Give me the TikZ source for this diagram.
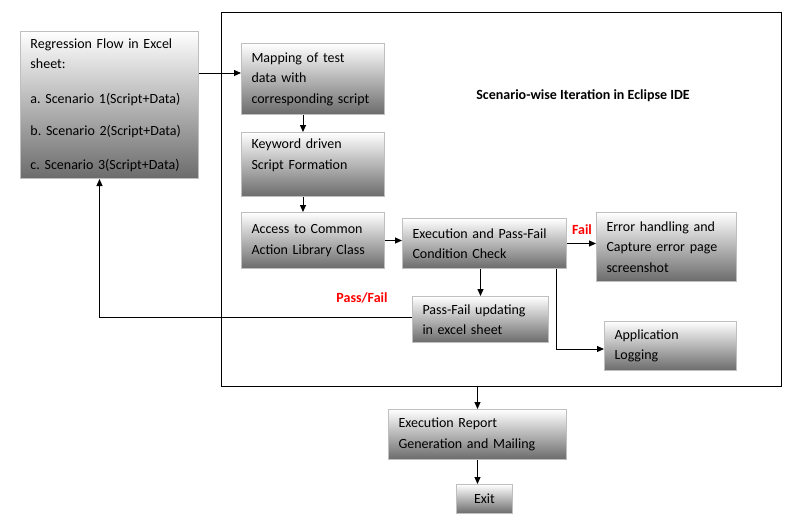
\documentclass[tikz,border=0pt]{standalone}
\usepackage{fontspec}
\setmainfont{Carlito}
\usetikzlibrary{arrows.meta}
\frenchspacing

\tikzset{
  flowbox/.style={draw=black!25, line width=1pt, top color=white, bottom color=black!58,
    anchor=north west, align=left, inner xsep=10pt, inner ysep=2pt,
    font=\fontsize{14}{20.5}\selectfont},
  redlabel/.style={text=red, font=\fontsize{14}{16}\selectfont\bfseries},
}

\begin{document}
\begin{tikzpicture}[x=1pt, y=-1pt, line width=1pt, >={Triangle[length=7pt,width=6pt]}]
\useasboundingbox (0,0) rectangle (788,523);
% frame for the IDE part
\node (ide) [draw=black, line width=0.8pt, anchor=north west, minimum width=560pt, minimum height=374pt, inner sep=0pt] at (221,12) {};
\node (title) [font=\fontsize{14}{16}\selectfont\bfseries] at (583,96) {Scenario-wise Iteration in Eclipse IDE};

% boxes
\node (reg) [flowbox, minimum width=178pt, minimum height=147pt, text width=158pt] at (20,31)
  {Regression Flow in Excel\\sheet:\\[14pt]a. Scenario 1(Script+Data)\\[12pt]b. Scenario 2(Script+Data)\\[13pt]c. Scenario 3(Script+Data)};
\node (map) [flowbox, minimum width=143pt, minimum height=71pt, text width=123pt] at (241,43)
  {Mapping of test\\data with\\corresponding script};
\node (key) [flowbox, minimum width=143pt, minimum height=64pt, text width=123pt] at (241,132)
  {Keyword driven\\Script Formation\\\mbox{}};
\node (acc) [flowbox, minimum width=143pt, minimum height=56pt, text width=123pt] at (241,212)
  {Access to Common\\Action Library Class\\[6pt]};
\node (exe) [flowbox, minimum width=164pt, minimum height=50pt, text width=144pt] at (402,218)
  {Execution and Pass-Fail\\Condition Check};
\node (err) [flowbox, minimum width=140pt, minimum height=69pt, text width=120pt] at (596,212)
  {Error handling and\\Capture error page\\screenshot};
\node (pf) [flowbox, minimum width=136pt, minimum height=46pt, text width=116pt] at (412,296)
  {Pass-Fail updating\\in excel sheet};
\node (app) [flowbox, minimum width=132pt, minimum height=49pt, text width=112pt] at (604,321)
  {Application\\Logging};
\node (rep) [flowbox, minimum width=178pt, minimum height=50pt, text width=158pt] at (388,409)
  {Execution Report\\Generation and Mailing};
\node (exit) [flowbox, align=center, inner xsep=0pt, minimum width=56pt, minimum height=29pt, text width=56pt] at (456,484)
  {Exit};

% connectors
\draw [->] ([yshift=6pt]map.west -| reg.east) -- ([yshift=6pt]map.west);
\draw [->] ([xshift=-10pt]map.south) -- ([xshift=-10pt]map.south |- key.north);
\draw [->] ([xshift=-10pt]key.south) -- ([xshift=-10pt]key.south |- acc.north);
\draw [->] (acc.east) -- (acc.east -| exe.west);
\draw [->] (exe.east) -- (exe.east -| err.west);
\draw [->] (pf.north |- exe.south) -- (pf.north);
\draw [->] ([xshift=-11pt]exe.south east) |- ([yshift=-3pt]app.west);
\draw [->] ([yshift=2pt]pf.west) -| ([xshift=-10pt]reg.south);
\draw [->] (rep.north |- ide.south) -- (rep.north);
\draw [->] (rep.south) -- (rep.south |- exit.north);

% labels
\node (fail) [redlabel] at (582,230) {Fail};
\node (passfail) [redlabel] at (362,298) {Pass/Fail};
\end{tikzpicture}
\end{document}
